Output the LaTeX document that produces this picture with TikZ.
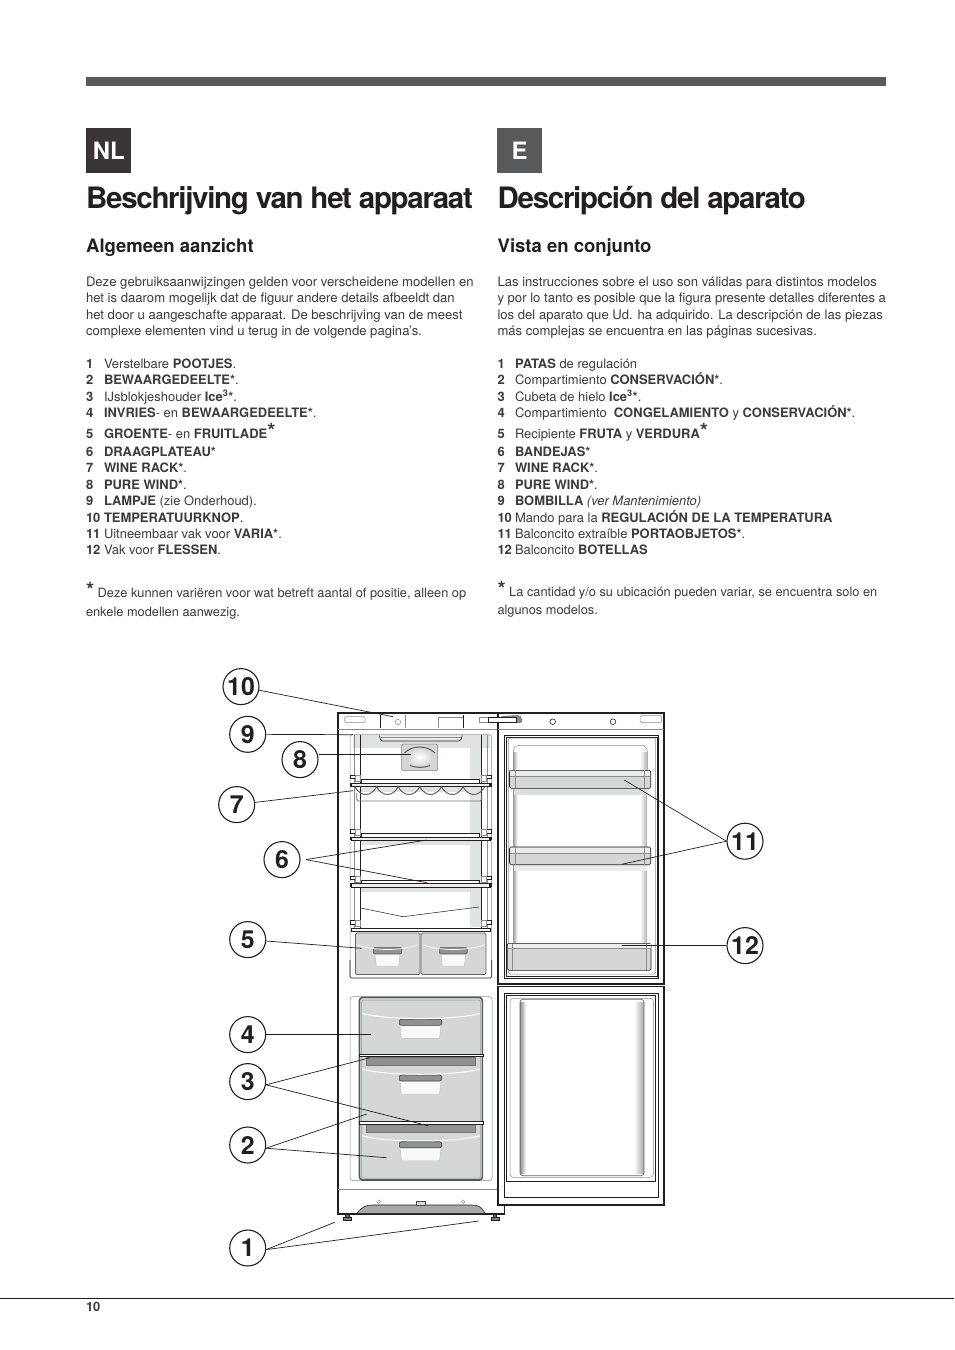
\documentclass[tikz,border=0pt]{standalone}
\usepackage{fontspec}
\setmainfont{TeX Gyre Heros}
\definecolor{ink}{HTML}{231F20}
\definecolor{body}{HTML}{3C3A3B}
\definecolor{bar}{HTML}{58595B}
\definecolor{pan}{HTML}{D4D7D6}
\definecolor{dk}{HTML}{8F9291}
\definecolor{fr}{HTML}{55585A}
\newcount\tnum
\newcommand{\tl}[3]{\global\advance\tnum by 1\relax\node[txt] (t\the\tnum) at (#1,#2+.8) {#3};}
\newcommand{\tp}[3]{\global\advance\tnum by 1\relax\node[txt,font=\fontsize{13.15}{16}\selectfont] (t\the\tnum) at (#1,#2+.4) {#3};}
\newcommand{\tf}[3]{\global\advance\tnum by 1\relax\node[txt,font=\fontsize{12.85}{16}\selectfont] (t\the\tnum) at (#1,#2) {#3};}
\newcommand{\bstar}{\textbf{\fontsize{21}{21}\selectfont*}}
\tikzset{
 x=1bp,y=-1bp,
 txt/.style={anchor=base west,inner sep=0,outer sep=0,text=body,font=\fontsize{13}{16}\selectfont},
 title/.style={anchor=base west,inner sep=0,text=ink,font=\fontsize{29.6}{32}\selectfont\bfseries\addfontfeatures{LetterSpace=-4.4}},
 head/.style={anchor=base west,inner sep=0,text=ink,font=\fontsize{18.6}{20}\selectfont\bfseries\addfontfeatures{LetterSpace=-.2}},
 flag/.style={anchor=north west,minimum size=45bp,inner sep=0,text=white,font=\fontsize{24}{24}\selectfont\bfseries},
 num/.style={circle,draw=ink,line width=1.1bp,fill=white,minimum size=36bp,inner sep=0,text=ink,font=\fontsize{25}{25}\selectfont\bfseries},
 lead/.style={draw=ink,line width=.7bp},
 heavy/.style={draw=ink,line width=1.4bp},
 thin/.style={draw=ink,line width=.6bp},
 soft/.style={draw=black!45,line width=.5bp},
}
\begin{document}
\begin{tikzpicture}
\useasboundingbox[fill=white] (0,0) rectangle (954,1350);
% page furniture
\fill[bar] (86,77) rectangle (886,86);
\draw[ink,line width=.6bp] (0,1298.5) -- (954,1298.5);
\node[flag,fill=ink!90] (fNL) at (86,128) {NL};
\node[flag,fill=bar] (fE) at (497,128) {E};
\node[title] (tiNL) at (86,209) {Beschrijving van het apparaat};
\node[title] (tiE) at (497.5,209) {Descripción del aparato};
\node[head] (hNL) at (86,252.5) {Algemeen aanzicht};
\node[head] (hE) at (497.5,252.5) {Vista en conjunto};
\node[txt,font=\fontsize{13}{16}\selectfont\bfseries] (pg) at (86,1311.5) {10};
% NL column
\tp{86}{286}{Deze gebruiksaanwijzingen gelden voor verscheidene modellen en}
\tp{86}{302.3}{het is daarom mogelijk dat de figuur andere details afbeeldt dan}
\tp{86}{318.7}{het door u aangeschafte apparaat. De beschrijving van de meest}
\tp{86}{335}{complexe elementen vind u terug in de volgende pagina’s.}
\tl{86}{367.5}{\textbf{1}}\tl{104}{367.5}{Verstelbare \textbf{POOTJES}.}
\tl{86}{384}{\textbf{2}}\tl{104}{384}{\textbf{BEWAARGEDEELTE*}.}
\tl{86}{400.3}{\textbf{3}}\tl{104}{400.3}{IJsblokjeshouder \textbf{Ice\textsuperscript{3}*}.}
\tl{86}{416.7}{\textbf{4}}\tl{104}{416.7}{\textbf{INVRIES}- en \textbf{BEWAARGEDEELTE*}.}
\tl{86}{437.7}{\textbf{5}}\tl{104}{437.7}{\textbf{GROENTE}- en \textbf{FRUITLADE}\bstar}
\tl{86}{455.3}{\textbf{6}}\tl{104}{455.3}{\textbf{DRAAGPLATEAU*}}
\tl{86}{472}{\textbf{7}}\tl{104}{472}{\textbf{WINE RACK*}.}
\tl{86}{488.3}{\textbf{8}}\tl{104}{488.3}{\textbf{PURE WIND*}.}
\tl{86}{504.7}{\textbf{9}}\tl{104}{504.7}{\textbf{LAMPJE} (zie Onderhoud).}
\tl{86}{521.3}{\textbf{10}}\tl{104}{521.3}{\textbf{TEMPERATUURKNOP}.}
\tl{86}{537.7}{\textbf{11}}\tl{104}{537.7}{Uitneembaar vak voor \textbf{VARIA*}.}
\tl{86}{554}{\textbf{12}}\tl{104}{554}{Vak voor \textbf{FLESSEN}.}
\tf{86}{597.5}{\bstar\ Deze kunnen variëren voor wat betreft aantal of positie, alleen op}
\tf{86}{616.5}{enkele modellen aanwezig.}
% E column
\tp{497.5}{286}{Las instrucciones sobre el uso son válidas para distintos modelos}
\tp{497.5}{302.3}{y por lo tanto es posible que la figura presente detalles diferentes a}
\tp{497.5}{318.7}{los del aparato que Ud. ha adquirido. La descripción de las piezas}
\tp{497.5}{335}{más complejas se encuentra en las páginas sucesivas.}
\tl{497.5}{367.5}{\textbf{1}}\tl{515}{367.5}{\textbf{PATAS} de regulación}
\tl{497.5}{384}{\textbf{2}}\tl{515}{384}{Compartimiento \textbf{CONSERVACIÓN*}.}
\tl{497.5}{400.3}{\textbf{3}}\tl{515}{400.3}{Cubeta de hielo \textbf{Ice\textsuperscript{3}*}.}
\tl{497.5}{416.7}{\textbf{4}}\tl{515}{416.7}{Compartimiento \ \textbf{CONGELAMIENTO} y \textbf{CONSERVACIÓN*}.}
\tl{497.5}{437.7}{\textbf{5}}\tl{515}{437.7}{Recipiente \textbf{FRUTA} y \textbf{VERDURA}\bstar}
\tl{497.5}{455.3}{\textbf{6}}\tl{515}{455.3}{\textbf{BANDEJAS*}}
\tl{497.5}{472}{\textbf{7}}\tl{515}{472}{\textbf{WINE RACK*}.}
\tl{497.5}{488.3}{\textbf{8}}\tl{515}{488.3}{\textbf{PURE WIND*}.}
\tl{497.5}{504.7}{\textbf{9}}\tl{515}{504.7}{\textbf{BOMBILLA} \textit{(ver Mantenimiento)}}
\tl{497.5}{521.3}{\textbf{10}}\tl{515}{521.3}{Mando para la \textbf{REGULACIÓN DE LA TEMPERATURA}}
\tl{497.5}{537.7}{\textbf{11}}\tl{515}{537.7}{Balconcito extraíble \textbf{PORTAOBJETOS*}.}
\tl{497.5}{554}{\textbf{12}}\tl{515}{554}{Balconcito \textbf{BOTELLAS}}
\tf{497.5}{596}{\bstar\ La cantidad y/o su ubicación pueden variar, se encuentra solo en}
\tf{497.5}{614.5}{algunos modelos.}
% ---------- fridge body
\draw[heavy] (504.5,1205) -- (504.5,1214) -- (338,1214) -- (338,713) -- (498,713);
\draw[soft] (338,729) -- (498,729);
\draw[soft] (338,1189) -- (498,1189);
% top panel
\draw[soft,rounded corners=1.5] (344.5,716.7) rectangle (365,722.7);
\draw[thin] (380.3,715) -- (380.3,728);
\draw[soft] (405,715) -- (405,728);
\draw[soft] (438.7,728) -- (438.7,717) -- (463,717);
\draw[thin] (463.3,715) -- (463.3,728);
\draw[soft] (398,722) circle (2.7);
\draw[soft] (479,722.7) -- (488,722.7) (479,717) -- (488,717) (479,717) -- (479,722.7);
% fridge compartment
\fill[pan!70] (353,735) rectangle (490,748);
\fill[pan!70] (470,735) rectangle (481,927);
\fill[pan!70] (361,787) rectangle (481,792);
\fill[pan!70] (361,840) rectangle (481,845);
\fill[pan!70] (361,887) rectangle (481,892);
\draw[soft,rounded corners=2.5] (350,978) -- (350,734.7) -- (491.7,734.7) -- (491.7,978);
\draw[thin] (360.7,735) -- (360.7,929) (481,735) -- (481,929);
\draw[soft] (354,735) -- (354,929) (487.5,735) -- (487.5,929);
\draw[thin,fill=pan!50,rounded corners=1.5] (379.3,735.5) -- (381,741) -- (460.5,741) -- (462.3,735.5);
\draw[soft] (381,737.5) -- (460.5,737.5);
% pure wind
\draw[black!50,line width=.5bp,fill=pan,rounded corners=1.5] (401.7,744) rectangle (437.7,770.7);
\shade[inner color=white,outer color=pan] (419.5,757) ellipse (13 and 9.5);
\draw[black!65,line width=1bp] (404.5,753) .. controls (412,745) and (427,745) .. (435,753);
\draw[black!65,line width=1bp] (410,765.5) .. controls (416,768) and (424,768) .. (430,765.5);
% supports and shelves
\foreach \y in {775,829.3,876,920.7}{
 \draw[thin,fill=white] (350.7,\y) rectangle (355,\y+3.6);
 \draw[thin,fill=white] (486.5,\y) rectangle (491,\y+3.6);
 \draw[soft,fill=white] (355,\y) rectangle (360,\y+6);
 \draw[soft,fill=white] (481.5,\y) rectangle (486.5,\y+6);
}
\foreach \y in {783,836.8,883.4}{
 \draw[thin,fill=white] (361.7,\y-3.4) rectangle (479.3,\y);
 \draw[thin,fill=pan!40] (351,\y) rectangle (490.5,\y+3.6);
 \fill[ink] (349.5,\y) rectangle (352,\y+3.6);
 \fill[ink] (489,\y) rectangle (491.5,\y+3.6);
}
\draw[thin,fill=white] (351,928.3) rectangle (490,931.7);
% wine rack
\draw[black!55,line width=.9bp,rounded corners=1.5] (356.7,793) -- (356.7,801) -- (481.7,801) -- (481.7,793);
\foreach \i in {0,...,5}{
 \draw[black!60,line width=1bp,line cap=round] (355+\i*21.6,787) .. controls (361+\i*21.6,797) and (370.6+\i*21.6,797) .. (376.6+\i*21.6,787);
}
% crisper
\draw[thin,rounded corners=1.5] (350,960) -- (350,978) -- (491.7,978) -- (491.7,960);
\foreach \xa/\xb/\ha/\hb in {355.5/420/373.3/401.7,421/486/439.3/467.3}{
 \draw[black!60,line width=.8bp,fill=pan,rounded corners=1.5] (\xa,933) rectangle (\xb,974.5);
 \fill[white!85!pan] (\ha+1.7,954) -- (\hb-1.7,954) -- (\hb-3,966) -- (\ha+3,966) -- cycle;
 \draw[black!25,line width=.4bp] (\ha+1.7,954) -- (\ha+3,966) -- (\hb-3,966) -- (\hb-1.7,954);
 \draw[black!65,line width=.6bp,fill=dk,rounded corners=2] (\ha,947.3) rectangle (\hb,954);
 \draw[white,line width=.7bp] (\xa+2,945) .. controls (\xa+20,951) and (\xb-20,951) .. (\xb-2,945);
}
% freezer
\draw[soft,rounded corners=3] (350,996.7) rectangle (492,1180.7);
\foreach \yt/\yb/\hy in {999/1054.5/1019.3,1056/1121.5/1075,1123.5/1179/1141.7}{
 \fill[pan] (361,\yt) rectangle (481,\yb);
 \fill[white!85!pan] (400,\hy+6) -- (441,\hy+6) -- (439.5,\hy+19) -- (401.5,\hy+19) -- cycle;
 \draw[black!25,line width=.4bp] (400,\hy+6) -- (401.5,\hy+19) -- (439.5,\hy+19) -- (441,\hy+6);
 \draw[black!75,line width=.6bp,fill=dk,rounded corners=2] (399.3,\hy) rectangle (441.7,\hy+6);
 \draw[white,line width=1bp] (362,\hy-6) .. controls (385,\hy+1) and (457,\hy+1) .. (480,\hy-6);
}
\fill[dk] (366,1057) rectangle (475,1065);
\fill[dk] (366,1123.7) rectangle (475,1131.7);
\draw[black!55,line width=.4bp] (366,1057) rectangle (475,1065) (366,1123.7) rectangle (475,1131.7);
\draw[fr,line width=1.6bp,rounded corners=3] (359.5,997.5) rectangle (482.3,1180);
\draw[black!40,line width=.5bp,rounded corners=2] (361.5,1000) rectangle (480.5,1178);
\draw[thin,fill=white] (359,1054.3) rectangle (482.8,1056.6);
\draw[thin,fill=white] (359,1121.5) rectangle (482.8,1123.8);
% base and feet
\draw[thin,fill=dk!80] (357.3,1213) .. controls (362,1207) and (366,1205) .. (372,1205) -- (472,1205) .. controls (478,1205) and (482,1207) .. (485,1213);
\draw[black!70,line width=.5bp,fill=pan] (416,1201.5) rectangle (425.5,1205.5);
\draw[soft] (378.7,1201.7) circle (1.8) (463.3,1201.7) circle (1.8);
\foreach \x in {347.3,495}{
 \draw[thin,fill=black!60] (\x-1.6,1214) rectangle (\x+1.6,1217);
 \draw[thin,fill=black!50] (\x-4,1217) rectangle (\x+4,1220);
}
% upper door
\draw[heavy] (498,713) rectangle (664,984);
\draw[soft] (498,729.3) -- (664,729.3);
\draw[thin] (504.3,735.7) rectangle (658.7,978);
\draw[thin] (506,737) rectangle (657,976);
\draw[soft,rounded corners=2] (508.3,738) rectangle (655.7,974);
\shade[left color=black!35,right color=white] (513.5,752) rectangle (517.5,943);
\shade[left color=white,right color=black!30] (640,752) rectangle (647,943);
\draw[soft,rounded corners=6] (513.3,770) -- (513.3,745.3) -- (647.3,745.3) -- (647.3,770);
\fill[pan!80] (514,788) rectangle (647,795);
\fill[pan!50] (514,864.7) rectangle (647,871);
\foreach \ya/\yb in {770.3/788.3,847/864.7}{
 \draw[thin,fill=pan,rounded corners=1.5] (509.5,\ya) rectangle (650.7,\yb);
 \fill[pan!50] (510,\ya+.5) rectangle (650,\ya+6);
 \draw[soft] (510,\ya+6) -- (650,\ya+6) (515,\ya) -- (515,\yb) (644.5,\ya) -- (644.5,\yb);
}
\draw[thin,fill=pan,rounded corners=1.5] (507.3,943.3) -- (651,943.3) -- (651,970.3) -- (507.3,970.3) -- cycle;
\fill[pan!45] (507.8,943.8) rectangle (650.5,948.2);
\draw[soft] (507.5,948.3) -- (650.7,948.3) (512.5,943.5) -- (512.5,970) (646,943.5) -- (646,970);
\draw[thin] (552.7,721.7) circle (2.8) (613,721.7) circle (2.8);
\draw[soft,rounded corners=1.5] (640,715.5) rectangle (661.7,722.5);
% handle
\draw[black!60,line width=.5bp,fill=black!45,rounded corners=2] (500,722.6) -- (500,716.5) -- (519,715.3) -- (521.7,718) -- (521.7,722.6) -- cycle;
\draw[ink,line width=.5bp,fill=white] (488.3,717.5) rectangle (516,722);
\fill[ink] (498,717) rectangle (516,718);
% lower door
\draw[heavy] (498,986.7) rectangle (664,1205);
\draw[thin] (504.3,993.3) rectangle (658.7,1197.3);
\draw[thin] (506.7,995) rectangle (655.7,1181.3);
\draw[soft,rounded corners=3] (510,998.3) rectangle (653.3,1177.3);
\shade[left color=black!45,right color=white] (520,1002) rectangle (526,1173);
\shade[left color=white,right color=black!35] (634,1002) rectangle (644,1173);
\draw[black!60,line width=.7bp,rounded corners=3] (520,999.3) rectangle (644,1175.7);
% callouts
\node[num] (n10) at (241,686.6) {10};
\node[num] (n9) at (247.7,734.3) {9};
\node[num] (n8) at (300,759.6) {8};
\node[num] (n7) at (236.7,804.6) {7};
\node[num,outer sep=6bp] (n6) at (282,859.6) {6};
\node[num] (n5) at (247.7,939.6) {5};
\node[num] (n4) at (247.7,1034.6) {4};
\node[num] (n3) at (247.7,1081.6) {3};
\node[num] (n2) at (247.7,1145) {2};
\node[num] (n1) at (247.7,1248) {1};
\node[num] (n11) at (745,841.2) {11};
\node[num] (n12) at (745,945.6) {12};
\coordinate (e10) at (393,716.7);
\coordinate (e9) at (353,734.7);
\coordinate (e8) at (411,754.7);
\coordinate (e7) at (353,790.7);
\coordinate (e6a) at (426.7,840);
\coordinate (e6b) at (426.7,882.7);
\coordinate (e5) at (361.7,948.3);
\coordinate (e4) at (371,1034.6);
\coordinate (e3a) at (370,1057.7);
\coordinate (e3b) at (428,1125.7);
\coordinate (e2a) at (366.7,1114);
\coordinate (e2b) at (386.7,1157.7);
\coordinate (e1a) at (334.7,1222.3);
\coordinate (e1b) at (478.7,1221);
\coordinate (e11a) at (624.3,780);
\coordinate (e11b) at (621.7,864.3);
\coordinate (e12) at (621.7,945.6);
\draw[lead] (n10) -- (e10);
\draw[lead] (n9) -- (e9);
\draw[lead] (n8.east |- e8) -- (e8);
\draw[lead] (n7) -- (e7);
\draw[lead] (n6.east) -- (e6a);
\draw[lead] (n6.east) -- (e6b);
\draw[lead] (n5) -- (e5);
\draw[lead] (n4) -- (e4);
\draw[lead] (n3.-10) -- (e3a);
\draw[lead] (n3.-10) -- (e3b);
\draw[lead] (n2.-10) -- (e2a);
\draw[lead] (n2.-10) -- (e2b);
\draw[lead] (n1.-5) -- (e1a);
\draw[lead] (n1.-5) -- (e1b);
\draw[lead] (n11.west) -- (e11a);
\draw[lead] (n11.west) -- (e11b);
\draw[lead] (n12) -- (e12);
% glass shelf mark
\coordinate (g1) at (360.7,908);
\coordinate (g2) at (403,916.7);
\coordinate (g3) at (479,907);
\draw[lead,line width=.5bp] (g1) -- (g2) -- (g3);
\end{tikzpicture}
\end{document}
